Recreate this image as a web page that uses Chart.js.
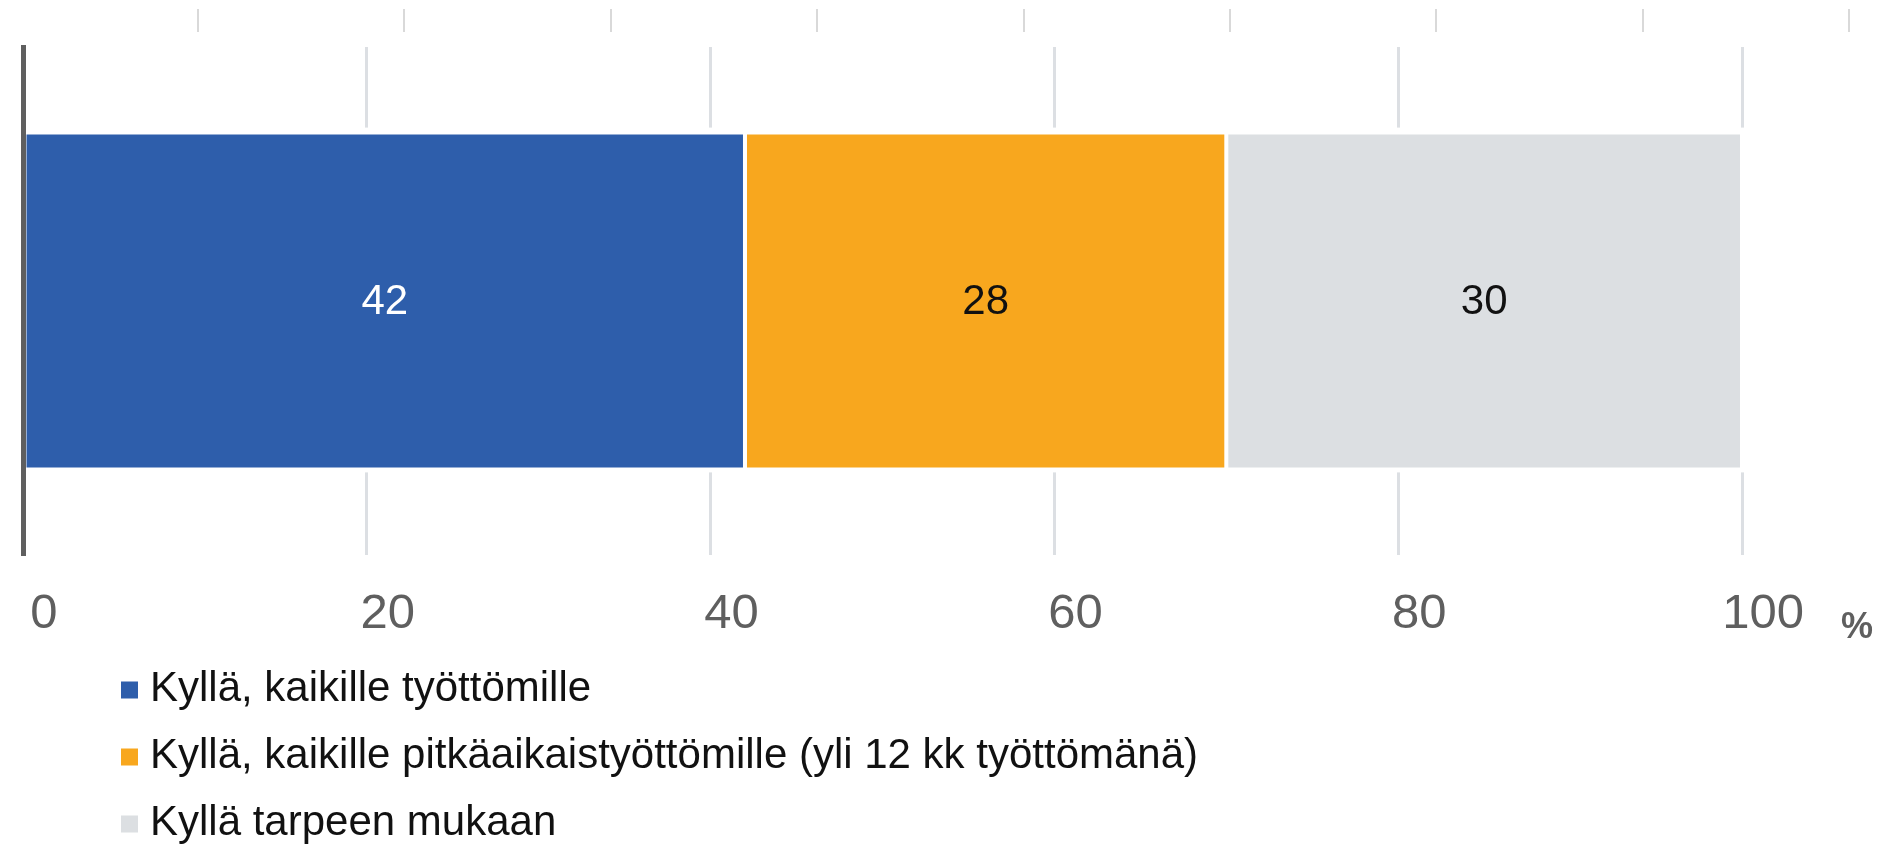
<!DOCTYPE html>
<html>
<head>
<meta charset="utf-8">
<script src="https://cdn.jsdelivr.net/npm/chart.js@4/dist/chart.umd.min.js"></script>
<style>
  html, body { margin: 0; padding: 0; background: #ffffff; }
  #wrap { width: 1885px; height: 844px; }
</style>
</head>
<body>
<div id="wrap"><canvas id="c" width="1885" height="844"></canvas></div>
<script>
// ---- data ----
const categories = [''];
const seriesLabels = [
  'Kyllä, kaikille työttömille',
  'Kyllä, kaikille pitkäaikaistyöttömille (yli 12 kk työttömänä)',
  'Kyllä tarpeen mukaan'
];
const kaikilleTyottomille = [42];
const pitkaaikaisTyottomille = [28];
const tarpeenMukaan = [30];
const xTickValues = [0, 20, 40, 60, 80, 100];
const xUnitLabel = '%';
const topTickValues = [1, 2, 3, 4, 5, 6, 7, 8, 9];

// ---- styles ----
const FONT = '"Liberation Sans", Arial, Helvetica, sans-serif';
const seriesColors = ['#2e5eab', '#f8a71e', '#dcdfe2'];
const valueTextColors = ['#ffffff', '#111111', '#111111'];

const valueLabels = {
  id: 'valueLabels',
  afterDatasetsDraw(chart) {
    const ctx = chart.ctx;
    ctx.save();
    ctx.font = '42px ' + FONT;
    ctx.textAlign = 'center';
    ctx.textBaseline = 'middle';
    chart.data.datasets.forEach((ds, i) => {
      const meta = chart.getDatasetMeta(i);
      meta.data.forEach((el, j) => {
        const p = el.getProps(['x', 'y', 'base'], true);
        ctx.fillStyle = valueTextColors[i];
        ctx.fillText(String(ds.data[j]), (p.x + p.base) / 2, p.y + 1);
      });
    });
    ctx.restore();
  }
};

const gridGap = {
  id: 'gridGap',
  beforeDatasetsDraw(chart) {
    const {ctx, chartArea} = chart;
    let top = Infinity, bottom = -Infinity;
    chart.data.datasets.forEach((ds, i) => {
      chart.getDatasetMeta(i).data.forEach(el => {
        const p = el.getProps(['y', 'height'], true);
        top = Math.min(top, p.y - p.height / 2);
        bottom = Math.max(bottom, p.y + p.height / 2);
      });
    });
    ctx.save();
    ctx.fillStyle = '#ffffff';
    ctx.fillRect(chartArea.left, top - 5, chartArea.right - chartArea.left, bottom - top + 8);
    ctx.restore();
  }
};

const listLegend = {
  id: 'listLegend',
  afterDraw(chart) {
    const ctx = chart.ctx;
    const boxX = 121, boxSize = 17, textX = 150, firstY = 689, step = 67;
    ctx.save();
    ctx.font = '42px ' + FONT;
    ctx.textAlign = 'left';
    ctx.textBaseline = 'middle';
    chart.data.datasets.forEach((ds, i) => {
      const y = firstY + i * step;
      ctx.fillStyle = ds.backgroundColor;
      ctx.fillRect(boxX, y - boxSize / 2 + 1, boxSize, boxSize);
      ctx.fillStyle = '#111111';
      ctx.fillText(ds.label, textX, y);
    });
    ctx.restore();
  }
};

const seriesData = [kaikilleTyottomille, pitkaaikaisTyottomille, tarpeenMukaan];

new Chart(document.getElementById('c'), {
  type: 'bar',
  data: {
    labels: categories,
    datasets: seriesData.map((d, i) => ({
      label: seriesLabels[i],
      data: d,
      backgroundColor: seriesColors[i],
      borderColor: '#ffffff',
      borderWidth: 2,
      borderSkipped: false,
      categoryPercentage: 1,
      barPercentage: 0.663
    }))
  },
  options: {
    indexAxis: 'y',
    responsive: false,
    animation: false,
    devicePixelRatio: 1,
    layout: { padding: { top: 9, left: 23, right: 12, bottom: 194 } },
    plugins: {
      legend: { display: false },
      tooltip: { enabled: false },
      title: { display: false }
    },
    scales: {
      x: {
        type: 'linear',
        position: 'bottom',
        stacked: true,
        min: 0,
        max: 107.62,
        afterBuildTicks: (axis) => { axis.ticks = xTickValues.map(v => ({ value: v })); },
        afterFit: (axis) => { axis.height = 95; },
        grid: { color: '#dcdfe3', lineWidth: 3, drawTicks: true, tickLength: 30, tickColor: 'rgba(0,0,0,0)' },
        border: { display: false },
        ticks: {
          font: { family: FONT, size: 49 },
          color: '#5f5f5f',
          padding: 0,
          labelOffset: 21,
          maxRotation: 0,
          autoSkip: false
        },
        title: {
          display: true,
          text: xUnitLabel,
          align: 'end',
          color: '#5f5f5f',
          font: { family: FONT, size: 36, weight: 'bold' },
          padding: { top: 0, bottom: 0 }
        }
      },
      xTop: {
        type: 'linear',
        axis: 'x',
        position: 'top',
        min: 0.152,
        max: 9.115,
        afterBuildTicks: (axis) => { axis.ticks = topTickValues.map(v => ({ value: v })); },
        grid: {
          drawOnChartArea: false,
          drawTicks: true,
          tickLength: 38,
          tickBorderDash: [23, 15],
          color: '#d9d9d9',
          tickColor: '#d9d9d9',
          lineWidth: 2
        },
        ticks: { display: false },
        border: { display: false }
      },
      y: {
        type: 'category',
        stacked: true,
        grid: { display: false, drawTicks: false },
        ticks: { display: false },
        border: { display: true, color: '#5f5f5f', width: 5, z: 1 }
      }
    }
  },
  plugins: [gridGap, valueLabels, listLegend]
});
</script>
</body>
</html>
